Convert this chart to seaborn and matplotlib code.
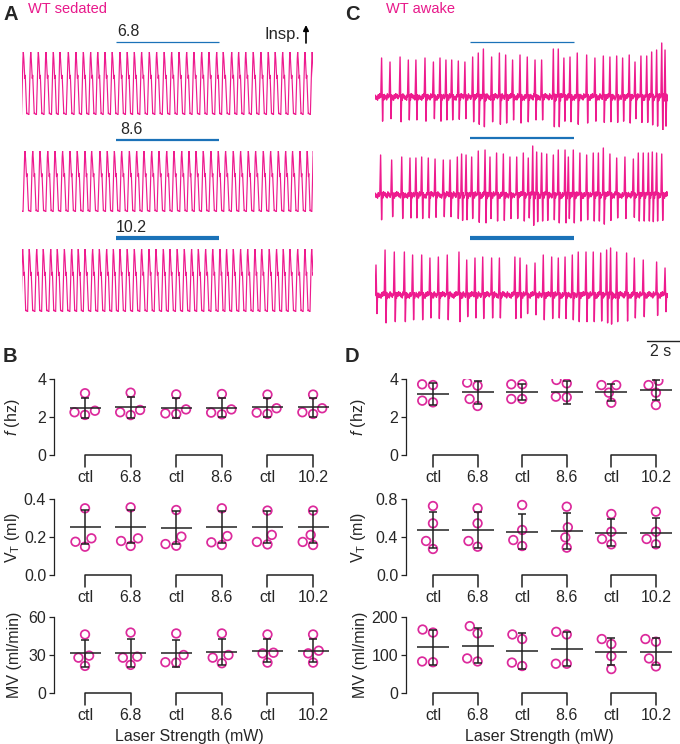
import numpy as np
import pandas as pd
import matplotlib
matplotlib.use("Agg")
import matplotlib.pyplot as plt
import seaborn as sns

# ============================ data ============================
conditions = ["ctl", "6.8", "ctl", "8.6", "ctl", "10.2"]
laser_powers = ["6.8", "8.6", "10.2"]

# ---- B: WT sedated (4 animals per condition) ----
sed_f_pts = [[3.25, 2.33, 2.11, 2.25], [3.28, 2.37, 2.10, 2.25], [3.19, 2.40, 2.16, 2.19],
             [3.21, 2.40, 2.14, 2.23], [3.18, 2.46, 2.16, 2.23], [3.18, 2.46, 2.16, 2.25]]
sed_f_mean = [2.49, 2.51, 2.49, 2.50, 2.51, 2.51]
sed_f_sd = [0.53, 0.54, 0.52, 0.50, 0.49, 0.49]

sed_vt_pts = [[0.351, 0.193, 0.149, 0.175], [0.356, 0.193, 0.153, 0.179], [0.342, 0.202, 0.154, 0.163],
              [0.351, 0.205, 0.158, 0.172], [0.339, 0.211, 0.161, 0.174], [0.339, 0.211, 0.158, 0.174]]
sed_vt_mean = [0.251, 0.254, 0.249, 0.254, 0.254, 0.254]
sed_vt_sd = [0.090, 0.088, 0.088, 0.084, 0.083, 0.083]

sed_mv_pts = [[46.2, 29.5, 27.9, 21.4], [47.7, 28.7, 27.9, 22.2], [47.0, 30.0, 24.0, 24.3],
              [47.0, 30.0, 23.5, 27.9], [46.2, 31.8, 31.3, 24.0], [46.2, 33.4, 31.3, 24.0]]
sed_mv_mean = [31.3, 31.8, 31.3, 32.1, 33.4, 33.4]
sed_mv_sd = [10.8, 11.2, 10.8, 10.3, 9.1, 9.1]

# ---- D: WT awake ----
awk_f_pts = [[3.72, 3.68, 2.77, 2.86], [3.81, 3.65, 2.95, 2.58], [3.72, 3.72, 2.95, 2.95],
             [3.95, 3.77, 3.07, 3.04], [3.68, 3.68, 3.28, 2.75], [3.91, 3.68, 3.28, 2.63]]
awk_f_mean = [3.21, 3.30, 3.30, 3.30, 3.30, 3.40]
awk_f_sd = [0.57, 0.62, 0.43, 0.60, 0.46, 0.53]

awk_vt_pts = [[0.726, 0.544, 0.358, 0.274], [0.702, 0.544, 0.358, 0.298], [0.737, 0.474, 0.368, 0.305],
              [0.719, 0.502, 0.396, 0.288], [0.642, 0.456, 0.379, 0.323], [0.667, 0.456, 0.379, 0.323]]
awk_vt_mean = [0.474, 0.474, 0.456, 0.463, 0.446, 0.446]
awk_vt_sd = [0.185, 0.185, 0.184, 0.188, 0.140, 0.151]

awk_mv_pts = [[167, 159, 81, 83], [176, 157, 83, 91], [154, 142, 71, 80],
              [161, 154, 77, 77], [142, 129, 97, 63], [142, 135, 91, 70]]
awk_mv_mean = [120, 124, 110, 116, 109, 109]
awk_mv_sd = [45.5, 46.0, 47.0, 45.5, 35.5, 35.5]

# ---- A: sedated breathing traces, inspiratory peak times (s) ----
sed_peaks_68 = [0.08, 0.53, 0.99, 1.45, 1.90, 2.30, 2.81, 3.27, 3.72, 4.16, 4.59, 5.03, 5.47, 5.94,
                6.38, 6.81, 7.25, 7.72, 8.16, 8.62, 9.07, 9.52, 9.98, 10.42, 10.89, 11.33, 11.80,
                12.20, 12.71, 13.13, 13.56, 14.02, 14.48, 14.93, 15.35, 15.80, 16.24, 16.71, 17.15, 17.59]
sed_peaks_86 = [0.18, 0.65, 1.09, 1.56, 2.00, 2.46, 2.91, 3.35, 3.82, 4.22, 4.73, 5.17, 5.60, 6.04,
                6.51, 6.95, 7.39, 7.86, 8.30, 8.77, 9.21, 9.68, 10.12, 10.55, 10.99, 11.45, 11.90,
                12.34, 12.81, 13.25, 13.72, 14.16, 14.63, 15.07, 15.54, 15.98, 16.40, 16.85, 17.29, 17.66]
sed_peaks_102 = [0.04, 0.44, 0.89, 1.29, 1.74, 2.14, 2.57, 3.01, 3.41, 3.82, 4.28, 4.69, 5.13, 5.54,
                 5.94, 6.38, 6.81, 7.25, 7.70, 8.12, 8.57, 8.97, 9.41, 9.84, 10.28, 10.69, 11.13,
                 11.56, 12.00, 12.40, 12.81, 13.25, 13.68, 14.12, 14.53, 14.99, 15.43, 15.84, 16.24,
                 16.71, 17.15, 17.56]

# ---- C: awake breathing traces, peak times (s) and amplitudes (a.u.) ----
awk_peaks_68 = [0.40, 0.91, 1.52, 2.02, 2.48, 3.03, 3.54, 3.94, 4.30, 4.65, 5.05, 5.45, 5.92, 6.26,
                6.57, 7.07, 7.54, 7.92, 8.34, 8.79, 9.23, 9.70, 10.10, 10.81, 11.11, 11.45, 11.82,
                12.26, 12.83, 13.33, 13.84, 14.24, 14.65, 15.01, 15.41, 15.76, 16.12, 16.47, 16.77,
                17.07, 17.38, 17.58]
awk_amp_68 = [39, 35, 40, 37, 37, 39, 35, 39, 37, 37, 36, 35, 40, 44, 48, 40, 44, 42, 37, 42, 40,
              37, 37, 48, 48, 39, 40, 44, 42, 39, 41, 40, 41, 39, 42, 35, 41, 41, 45, 47, 54, 47]
awk_peaks_86 = [0.34, 1.01, 1.62, 2.12, 2.48, 2.83, 3.23, 3.64, 4.14, 4.55, 4.99, 5.25, 5.52, 5.86,
                6.26, 6.67, 6.97, 7.37, 7.78, 8.18, 8.59, 8.99, 9.29, 9.56, 9.80, 10.10, 10.41,
                10.81, 11.11, 11.52, 11.72, 12.02, 12.42, 12.83, 13.23, 13.54, 13.84, 14.24, 14.65,
                15.15, 15.66, 15.96, 16.26, 16.57, 16.81, 17.07, 17.38]
awk_amp_86 = [40, 35, 38, 37, 37, 38, 37, 36, 35, 35, 38, 41, 40, 38, 44, 45, 38, 42, 41, 38, 38,
              42, 37, 49, 43, 42, 41, 40, 45, 45, 38, 45, 42, 40, 42, 42, 47, 41, 37, 38, 36, 42,
              42, 42, 43, 42, 41]
awk_peaks_102 = [0.06, 0.61, 1.17, 1.78, 2.28, 2.83, 3.33, 3.84, 4.38, 5.09, 5.56, 6.06, 6.53, 7.07,
                 7.54, 8.48, 8.79, 9.19, 9.70, 10.20, 10.71, 11.11, 11.52, 11.96, 12.32, 12.79,
                 13.23, 13.68, 14.04, 14.28, 14.65, 15.25, 15.72, 16.26, 17.07, 17.58]
awk_amp_102 = [30, 45, 43, 43, 40, 40, 37, 38, 40, 43, 35, 37, 38, 37, 37, 38, 37, 30, 32, 40, 38,
               37, 38, 40, 43, 43, 43, 42, 45, 47, 43, 42, 37, 35, 33, 27]

sed_laser = (5.70, 11.94)   # laser on / off (s)
awk_laser = (5.76, 12.06)
scale_bar_s = 2

# ============================ style ============================
sns.set_style("ticks")
plt.rcParams["font.family"] = ["Liberation Sans", "DejaVu Sans"]
plt.rcParams["mathtext.fontset"] = "custom"
plt.rcParams["mathtext.rm"] = "Liberation Sans"
plt.rcParams["mathtext.it"] = "Liberation Sans:italic"

PINK_TXT = "#E8198B"
TRACE = "#EE1B8E"
DOT = "#DC2A9C"
BLUE = "#1B72B8"
LINE = "#222222"

W, H = 680, 744
fig = plt.figure(figsize=(W / 100, H / 100), dpi=100)


def rect(x0, y0, x1, y1):
    return [x0 / W, 1 - y1 / H, (x1 - x0) / W, (y1 - y0) / H]


# shape templates (style)
SED_L = [(1.0, 0.03), (0.5, 0.0), (0.1, 0.9), (0.0, 1.0)]
SED_R = [(0.15, 0.88), (0.4, 0.58), (0.52, 0.63), (0.92, 0.02)]
AWK_SHAPE = [(-0.05, 0.0), (-0.012, 0.7), (0.0, 1.0), (0.03, 0.1), (0.06, -0.62), (0.1, 0.06), (0.13, -0.08)]
RIPPLE = [2.6, -1.8, 1.2, -3.0, 3.2, -1.0, 1.8, -2.4, 0.8, -3.2, 2.4, -1.4, 3.4, -0.6]


def sed_knots(peaks):
    tp = np.asarray(peaks)
    mids = (tp[1:] + tp[:-1]) / 2
    left = np.r_[2 * tp[0] - mids[0], mids]
    right = np.r_[mids, 2 * tp[-1] - mids[-1]]
    t, v = [], []
    for p, lb, rb in zip(tp, left, right):
        L, R = p - lb, rb - p
        for f, val in SED_L:
            t.append(p - f * L); v.append(val)
        for f, val in SED_R:
            t.append(p + f * R); v.append(val)
    return np.array(t), np.array(v)


def awk_knots(peaks, amps, t_end):
    t, v = [-0.3], [0.0]
    s, k = -0.25, 0
    while s < peaks[0] - 0.06:
        t.append(s); v.append(RIPPLE[k % len(RIPPLE)]); s += 0.045; k += 1
    for i, (p, a) in enumerate(zip(peaks, amps)):
        for dt, val in AWK_SHAPE:
            t.append(p + dt); v.append(val * a)
        nxt = peaks[i + 1] - 0.06 if i + 1 < len(peaks) else t_end + 0.3
        s = p + 0.17
        while s < nxt:
            t.append(s); v.append(RIPPLE[(k + i) % len(RIPPLE)]); s += 0.045; k += 1
    return np.array(t), np.array(v)


# ============================ traces ============================
A_X = (22, 313); A_T = 17.64
A_rows = [(52, 115, 41.7), (151, 212, 140.0), (249, 312, 237.7)]
C_X = (375, 668); C_T = 17.76
C_rows = [(30, 130, 41.7), (128, 228, 138.0), (228, 328, 237.7)]
bar_lw = [0.9, 1.6, 3.0]

for i, peaks in enumerate([sed_peaks_68, sed_peaks_86, sed_peaks_102]):
    top, bot, barpx = A_rows[i]
    ax = fig.add_axes(rect(A_X[0], top, A_X[1], bot))
    t, v = sed_knots(peaks)
    sns.lineplot(x=t, y=v, ax=ax, sort=False, estimator=None, color=TRACE, lw=0.85)
    ax.set_xlim(0, A_T); ax.set_ylim(0, 1)
    ax.plot(sed_laser, [(bot - barpx) / (bot - top)] * 2, transform=ax.get_xaxis_transform(),
            clip_on=False, color=BLUE, lw=bar_lw[i], solid_capstyle="butt")
    ax.set_axis_off()

awk_sets = [(awk_peaks_68, awk_amp_68), (awk_peaks_86, awk_amp_86), (awk_peaks_102, awk_amp_102)]
for i, (peaks, amps) in enumerate(awk_sets):
    top, bot, barpx = C_rows[i]
    ax = fig.add_axes(rect(C_X[0], top, C_X[1], bot))
    t, v = awk_knots(peaks, amps, C_T)
    sns.lineplot(x=t, y=v, ax=ax, sort=False, estimator=None, color=TRACE, lw=1.0)
    ax.set_xlim(0, C_T); ax.set_ylim(-33, 67)
    ax.plot(awk_laser, [(bot - barpx) / (bot - top)] * 2, transform=ax.get_xaxis_transform(),
            clip_on=False, color=BLUE, lw=bar_lw[i], solid_capstyle="butt")
    if i == 2:
        t_right = (680 - C_X[0]) / (C_X[1] - C_X[0]) * C_T
        ax.plot([t_right - scale_bar_s, t_right], [(bot - 341) / (bot - top)] * 2,
                transform=ax.get_xaxis_transform(), clip_on=False, color=LINE, lw=1.0)
    ax.set_axis_off()


# ============================ summary panels ============================
def panel(px, pts, mean, sd, ymax, yticks, yticklabels, ylabel, xlim, half, ylab_x, xlab_x=None):
    ax = fig.add_axes(rect(*px))
    df = pd.DataFrame({"cond": np.repeat(np.arange(6), 4), "val": np.ravel(pts)})
    sns.swarmplot(data=df, x="cond", y="val", ax=ax, color=DOT, size=6.2, linewidth=1.2, zorder=2)
    for c in ax.collections:
        c.set_facecolor("none"); c.set_edgecolor(DOT); c.set_linewidth(1.25)
    x = np.arange(6)
    ax.errorbar(x, mean, yerr=sd, fmt="none", ecolor=LINE, elinewidth=1.1, capsize=2.6,
                capthick=1.1, zorder=3)
    ax.hlines(mean, x - half, x + half, colors=LINE, lw=1.1, zorder=3)
    trans = ax.get_xaxis_transform()
    for k in range(3):
        ax.plot([2 * k, 2 * k, 2 * k + 1, 2 * k + 1], [-0.158, 0, 0, -0.158], transform=trans,
                clip_on=False, color=LINE, lw=1.1)
    ax.set_xlim(*xlim); ax.set_ylim(0, ymax)
    ax.set_xticks(x, conditions)
    ax.set_yticks(yticks, yticklabels)
    ax.tick_params(axis="x", length=0, pad=11, labelsize=11.5)
    ax.tick_params(axis="y", length=3.6, width=0.9, pad=2, labelsize=11.5, color=LINE)
    for s in ["top", "right", "bottom"]:
        ax.spines[s].set_visible(False)
    ax.spines["left"].set_linewidth(0.9); ax.spines["left"].set_color(LINE)
    ax.set_ylabel(ylabel, fontsize=11.5)
    ax.yaxis.set_label_coords(ylab_x, 0.5)
    if xlab_x is not None:
        ax.set_xlabel("Laser Strength (mW)", fontsize=11.5)
        ax.xaxis.set_label_coords(xlab_x, -0.47)
    else:
        ax.set_xlabel("")
    ax.patch.set_visible(False)
    return ax


BX = (54, 340); BXL = (-0.68, 5.59)
DX = (406, 680); DXL = (-0.605, 5.54)
rows = [(379, 455), (499, 575), (617, 693)]

panel((BX[0], rows[0][0], BX[1], rows[0][1]), sed_f_pts, sed_f_mean, sed_f_sd, 4, [0, 2, 4],
      ["0", "2", "4"], "$f$ (hz)", BXL, 0.34, -0.112)
panel((BX[0], rows[1][0], BX[1], rows[1][1]), sed_vt_pts, sed_vt_mean, sed_vt_sd, 0.4, [0, 0.2, 0.4],
      ["0.0", "0.2", "0.4"], "V$_\\mathrm{T}$ (ml)", BXL, 0.34, -0.112)
panel((BX[0], rows[2][0], BX[1], rows[2][1]), sed_mv_pts, sed_mv_mean, sed_mv_sd, 60, [0, 30, 60],
      ["0", "30", "60"], "MV (ml/min)", BXL, 0.34, -0.112, xlab_x=0.472)

panel((DX[0], rows[0][0], DX[1], rows[0][1]), awk_f_pts, awk_f_mean, awk_f_sd, 4, [0, 2, 4],
      ["0", "2", "4"], "$f$ (hz)", DXL, 0.36, -0.139)
panel((DX[0], rows[1][0], DX[1], rows[1][1]), awk_vt_pts, awk_vt_mean, awk_vt_sd, 0.8, [0, 0.4, 0.8],
      ["0.0", "0.4", "0.8"], "V$_\\mathrm{T}$ (ml)", DXL, 0.36, -0.139)
panel((DX[0], rows[2][0], DX[1], rows[2][1]), awk_mv_pts, awk_mv_mean, awk_mv_sd, 200, [0, 100, 200],
      ["0", "100", "200"], "MV (ml/min)", DXL, 0.36, -0.139, xlab_x=0.485)

# ============================ annotations ============================
ov = fig.add_axes([0, 0, 1, 1])
ov.set_xlim(0, W); ov.set_ylim(H, 0); ov.set_axis_off(); ov.patch.set_visible(False)
for letter, (x, y) in zip("ACBD", [(3, 15), (345, 15), (3, 357), (345, 357)]):
    ov.text(x, y, letter, fontsize=14.5, fontweight="bold", va="center", ha="left")
ov.text(28, 9, "WT sedated", color=PINK_TXT, fontsize=10.5, va="center")
ov.text(386, 9, "WT awake", color=PINK_TXT, fontsize=10.5, va="center")
for lab, (x, y) in zip(laser_powers, [(117, 32), (120, 130), (116, 228)]):
    ov.text(x, y, lab, fontsize=11.5, va="center", ha="left")
ov.text(265, 35, "Insp.", fontsize=12, va="center", ha="left")
ov.annotate("", xy=(306, 25), xytext=(306, 43),
            arrowprops=dict(arrowstyle="-|>", color="black", lw=1.2, mutation_scale=8, shrinkA=0, shrinkB=0))
ov.text(661, 352, "2 s", fontsize=11.5, va="center", ha="center")

fig.savefig("out.png", dpi=100)
